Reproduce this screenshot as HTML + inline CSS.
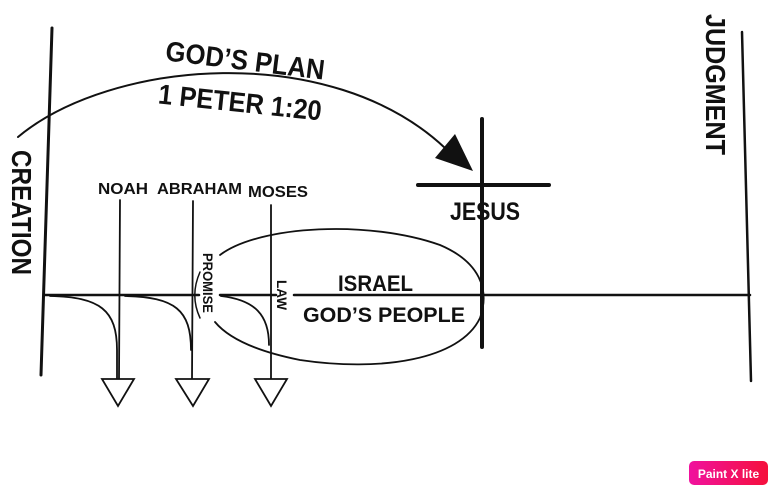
<!DOCTYPE html>
<html><head><meta charset="utf-8"><style>
html,body{margin:0;padding:0;background:#fff;}
svg{display:block;}
text{font-family:"Liberation Sans",sans-serif;font-weight:bold;fill:#111;}
</style></head><body>
<svg width="779" height="495" viewBox="0 0 779 495" xmlns="http://www.w3.org/2000/svg">
<g stroke="#111" fill="none" stroke-linecap="round">
<line x1="52" y1="28" x2="41" y2="375" stroke-width="3"/>
<line x1="742" y1="32" x2="751" y2="381" stroke-width="2.5"/>
<line x1="45" y1="295" x2="199" y2="295" stroke-width="2.5"/>
<line x1="220" y1="295" x2="276" y2="295" stroke-width="2.5"/>
<line x1="294" y1="295" x2="750" y2="295" stroke-width="2.5"/>
<path d="M18,137 C110,60 330,40 445,148" stroke-width="2"/>
<line x1="482" y1="119" x2="482" y2="347" stroke-width="4"/>
<line x1="418" y1="185" x2="549" y2="185" stroke-width="4"/>
<line x1="120" y1="200" x2="119" y2="379" stroke-width="1.8"/>
<line x1="193" y1="201" x2="192" y2="379" stroke-width="1.8"/>
<line x1="271" y1="205" x2="271" y2="379" stroke-width="1.8"/>
<path d="M50,296 C100,297 117,310 117,350 L117,379" stroke-width="1.8"/>
<path d="M125,296 C175,297 191,310 191,350" stroke-width="1.8"/>
<path d="M221,296 C255,300 269,315 269,345" stroke-width="1.8"/>
<path d="M220,255 C260,225 370,220 440,245 C480,262 490,290 480,318 C460,360 380,372 300,360 C260,352 230,340 215,322" stroke-width="1.8"/>
<path d="M200,272 C192,290 194,305 200,318" stroke-width="1.5"/>
<polygon points="102,379 134,379 118,406" stroke-width="1.8" fill="#fff"/>
<polygon points="176,379 209,379 193,406" stroke-width="1.8" fill="#fff"/>
<polygon points="255,379 287,379 271,406" stroke-width="1.8" fill="#fff"/>
</g>
<polygon points="473,171 435,158 455,134" fill="#111"/>
<text x="165" y="70" font-size="28" textLength="160" lengthAdjust="spacingAndGlyphs" transform="rotate(7 245 62)">GOD’S PLAN</text>
<text x="158" y="112" font-size="28" textLength="164" lengthAdjust="spacingAndGlyphs" transform="rotate(6 240 103)">1 PETER 1:20</text>
<text x="450" y="220" font-size="25" textLength="70" lengthAdjust="spacingAndGlyphs">JESUS</text>
<text x="98" y="194" font-size="16" textLength="50" lengthAdjust="spacingAndGlyphs">NOAH</text>
<text x="157" y="194" font-size="16" textLength="85" lengthAdjust="spacingAndGlyphs">ABRAHAM</text>
<text x="248" y="197" font-size="16" textLength="60" lengthAdjust="spacingAndGlyphs">MOSES</text>
<text x="338" y="291" font-size="22" textLength="75" lengthAdjust="spacingAndGlyphs">ISRAEL</text>
<text x="303" y="322" font-size="21" textLength="162" lengthAdjust="spacingAndGlyphs">GOD’S PEOPLE</text>
<text transform="translate(203,253) rotate(90)" font-size="14" textLength="60" lengthAdjust="spacingAndGlyphs">PROMISE</text>
<text transform="translate(277,280) rotate(90)" font-size="14" textLength="30" lengthAdjust="spacingAndGlyphs">LAW</text>
<text transform="translate(12,150) rotate(90)" font-size="28" textLength="125" lengthAdjust="spacingAndGlyphs">CREATION</text>
<text transform="translate(706,14) rotate(90)" font-size="28" textLength="141" lengthAdjust="spacingAndGlyphs">JUDGMENT</text>
<defs><linearGradient id="g" x1="0" x2="1"><stop offset="0" stop-color="#f0129e"/><stop offset="1" stop-color="#f5103c"/></linearGradient></defs>
<rect x="689" y="461" width="79" height="24" rx="5" fill="url(#g)"/>
<text x="728.5" y="478" font-size="12" text-anchor="middle" style="fill:#fff">Paint X lite</text>
</svg>
</body></html>
